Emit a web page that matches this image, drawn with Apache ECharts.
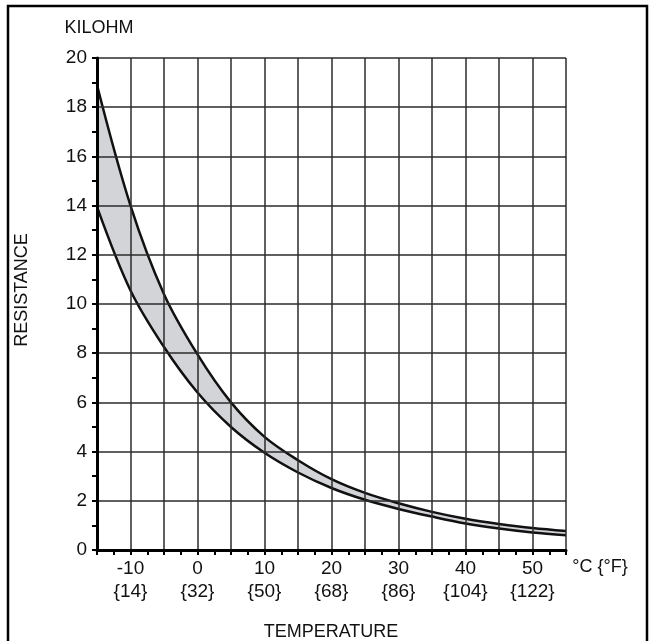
<!DOCTYPE html>
<html>
<head>
<meta charset="utf-8">
<script src="https://cdn.jsdelivr.net/npm/echarts@6/dist/echarts.min.js"></script>
<style>html,body{margin:0;padding:0;background:#fff}#c{width:652px;height:641px}</style>
</head>
<body>
<div id="c"></div>
<script>
const temperatureC = [-15, -10, -5, 0, 5, 10, 15, 20, 25, 30, 35, 40, 45, 50, 55];
const upperKOhm = [18.9, 14.0, 10.4, 7.95, 6.0, 4.6, 3.65, 2.88, 2.32, 1.9, 1.55, 1.27, 1.06, 0.89, 0.77];
const lowerKOhm = [13.95, 10.55, 8.25, 6.4, 5.0, 3.95, 3.15, 2.52, 2.04, 1.67, 1.36, 1.08, 0.87, 0.71, 0.6];
const xLabelC = [-10, 0, 10, 20, 30, 40, 50];
const xLabelF = ['{14}', '{32}', '{50}', '{68}', '{86}', '{104}', '{122}'];
const yAxisTitle = 'KILOHM';
const yAxisName = 'RESISTANCE';
const xAxisName = 'TEMPERATURE';
const xUnit = '°C {°F}';

const FONT = 'Liberation Sans';
const FS = 18;
const FS_TICK = 19;
const upperData = temperatureC.map((t, i) => [t, upperKOhm[i]]);
const lowerData = temperatureC.map((t, i) => [t, lowerKOhm[i]]);

const chart = echarts.init(document.getElementById('c'), null, {renderer: 'canvas'});
chart.setOption({
  animation: false,
  backgroundColor: '#fff',
  grid: {left: 97, right: 86, top: 58, bottom: 91, containLabel: false},
  xAxis: {
    type: 'value', min: -15, max: 55, interval: 5, z: 5,
    axisLine: {show: true, onZero: false, lineStyle: {color: '#000', width: 3}},
    axisTick: {show: true, length: 5, lineStyle: {color: '#000', width: 2}},
    minorTick: {show: true, splitNumber: 2, length: 5, lineStyle: {color: '#000', width: 2}},
    splitLine: {show: true, lineStyle: {color: '#2b2b2b', width: 1.5}},
    axisLabel: {
      margin: 7, color: '#111', fontFamily: FONT, fontSize: FS_TICK, lineHeight: 23,
      showMinLabel: false,
      formatter: function (v) {
        const i = xLabelC.indexOf(v);
        return i >= 0 ? v + '\n' + xLabelF[i] : '';
      }
    }
  },
  yAxis: {
    type: 'value', min: 0, max: 20, interval: 2, z: 5,
    axisLine: {show: true, onZero: false, lineStyle: {color: '#000', width: 3}},
    axisTick: {show: true, length: 5, lineStyle: {color: '#000', width: 2}},
    minorTick: {show: true, splitNumber: 2, length: 5, lineStyle: {color: '#000', width: 2}},
    splitLine: {show: true, lineStyle: {color: '#2b2b2b', width: 1.5}},
    axisLabel: {margin: 10, color: '#111', fontFamily: FONT, fontSize: FS_TICK}
  },
  graphic: [
    {type: 'rect', silent: true, z: 100,
      shape: {x: 8, y: 6, width: 639, height: 650},
      style: {fill: 'none', stroke: '#000', lineWidth: 2.5}},
    {type: 'text', x: 99, y: 28, z: 100,
      style: {text: yAxisTitle, font: FS + 'px "Liberation Sans"', fill: '#111', align: 'center', verticalAlign: 'middle'}},
    {type: 'text', x: 22, y: 290, rotation: Math.PI / 2, z: 100,
      style: {text: yAxisName, font: FS + 'px "Liberation Sans"', fill: '#111', align: 'center', verticalAlign: 'middle'}},
    {type: 'text', x: 331, y: 632, z: 100,
      style: {text: xAxisName, font: FS + 'px "Liberation Sans"', fill: '#111', align: 'center', verticalAlign: 'middle'}},
    {type: 'text', x: 600, y: 567, z: 100,
      style: {text: xUnit, font: FS + 'px "Liberation Sans"', fill: '#111', align: 'center', verticalAlign: 'middle'}}
  ],
  series: [
    {type: 'line', name: 'upper', data: upperData, smooth: 0.35,
      symbol: 'none', z: 2, lineStyle: {color: '#111', width: 2.5},
      areaStyle: {color: '#d3d4d8', opacity: 1, origin: 'start'}},
    {type: 'line', name: 'lower', data: lowerData, smooth: 0.35,
      symbol: 'none', z: 3, lineStyle: {color: '#111', width: 2.5},
      areaStyle: {color: '#ffffff', opacity: 1, origin: 'start'}}
  ]
});
</script>
</body>
</html>
